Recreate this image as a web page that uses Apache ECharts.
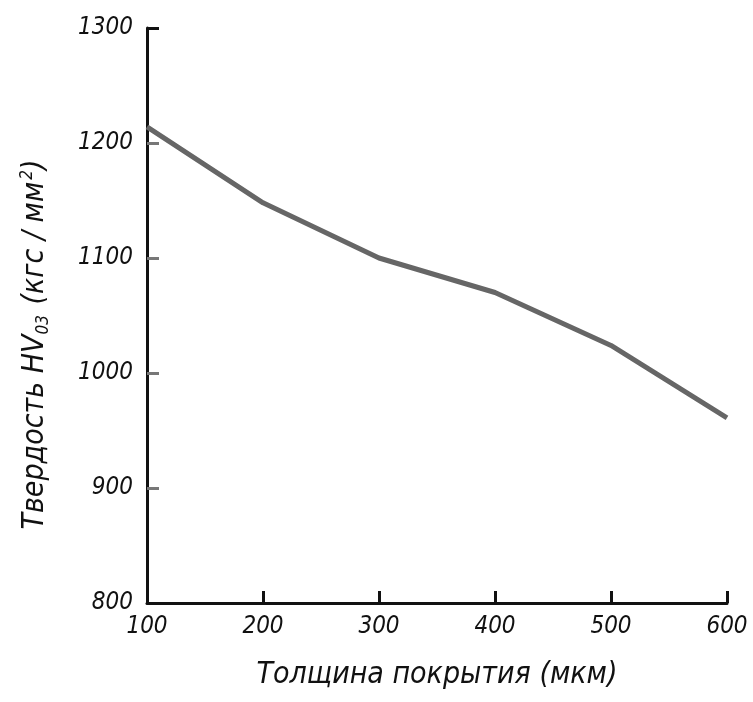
<!DOCTYPE html>
<html><head><meta charset="utf-8">
<script src="https://cdn.jsdelivr.net/npm/echarts@6/dist/echarts.min.js"></script>
<style>html,body{margin:0;padding:0;background:#fff}#c{width:753px;height:702px}</style>
</head><body><div id="c"></div>
<script>
const thickness = [100, 200, 300, 400, 500, 600];
const hardness = [1214, 1148, 1100, 1070, 1024, 961];
const xTicks = [200, 300, 400, 500, 600];
const yTicksGrey = [900, 1000, 1100, 1200];
const yTicksBlack = [1300];
const xTitle = 'Толщина покрытия (мкм)';
const yTitle = 'Твердость HV{sub|03} (кгс / мм{sup|2})';
const FONT = '"DejaVu Sans Condensed","DejaVu Sans",sans-serif';

const chart = echarts.init(document.getElementById('c'));
chart.setOption({
  backgroundColor: '#fff',
  animation: false,
  grid: { left: 147, right: 26, top: 28, bottom: 99 },
  xAxis: {
    type: 'value', min: 100, max: 600, interval: 100,
    name: xTitle, nameLocation: 'middle', nameGap: 57,
    nameTextStyle: { fontFamily: FONT, fontStyle: 'italic', fontSize: 30, color: '#111' },
    axisLine: { lineStyle: { color: '#111', width: 3 } },
    axisTick: { inside: true, length: 12, customValues: xTicks, lineStyle: { color: '#111', width: 3 } },
    axisLabel: { fontFamily: FONT, fontStyle: 'italic', fontSize: 24, color: '#111', margin: 12,
      formatter: v => String(v) },
    splitLine: { show: false }
  },
  yAxis: [{
    type: 'value', min: 800, max: 1300, interval: 100,
    name: yTitle, nameLocation: 'middle', nameGap: 95, nameRotate: 90,
    nameTextStyle: { fontFamily: FONT, fontStyle: 'italic', fontSize: 30, color: '#111',
      padding: [0, 58, 0, 0],
      rich: {
        sub: { fontFamily: FONT, fontStyle: 'italic', fontSize: 17, color: '#111', verticalAlign: 'bottom', padding: [12, 2, 0, 0] },
        sup: { fontFamily: FONT, fontStyle: 'italic', fontSize: 17, color: '#111', verticalAlign: 'top', padding: [0, 0, 16, 2] }
      } },
    axisLine: { lineStyle: { color: '#111', width: 3 } },
    axisTick: { inside: true, length: 12, customValues: yTicksGrey, lineStyle: { color: '#777', width: 3 } },
    axisLabel: { fontFamily: FONT, fontStyle: 'italic', fontSize: 24, color: '#111', margin: 14,
      formatter: v => String(v) },
    splitLine: { show: false }
  }, {
    type: 'value', min: 800, max: 1300, interval: 100, position: 'left',
    axisLine: { show: false },
    axisTick: { show: true, inside: true, length: 12, customValues: yTicksBlack, lineStyle: { color: '#111', width: 3 } },
    axisLabel: { show: false },
    splitLine: { show: false }
  }],
  series: [{
    type: 'line',
    data: thickness.map((t, i) => [t, hardness[i]]),
    symbol: 'none',
    lineStyle: { color: '#666', width: 5 }
  }]
});
</script></body></html>
